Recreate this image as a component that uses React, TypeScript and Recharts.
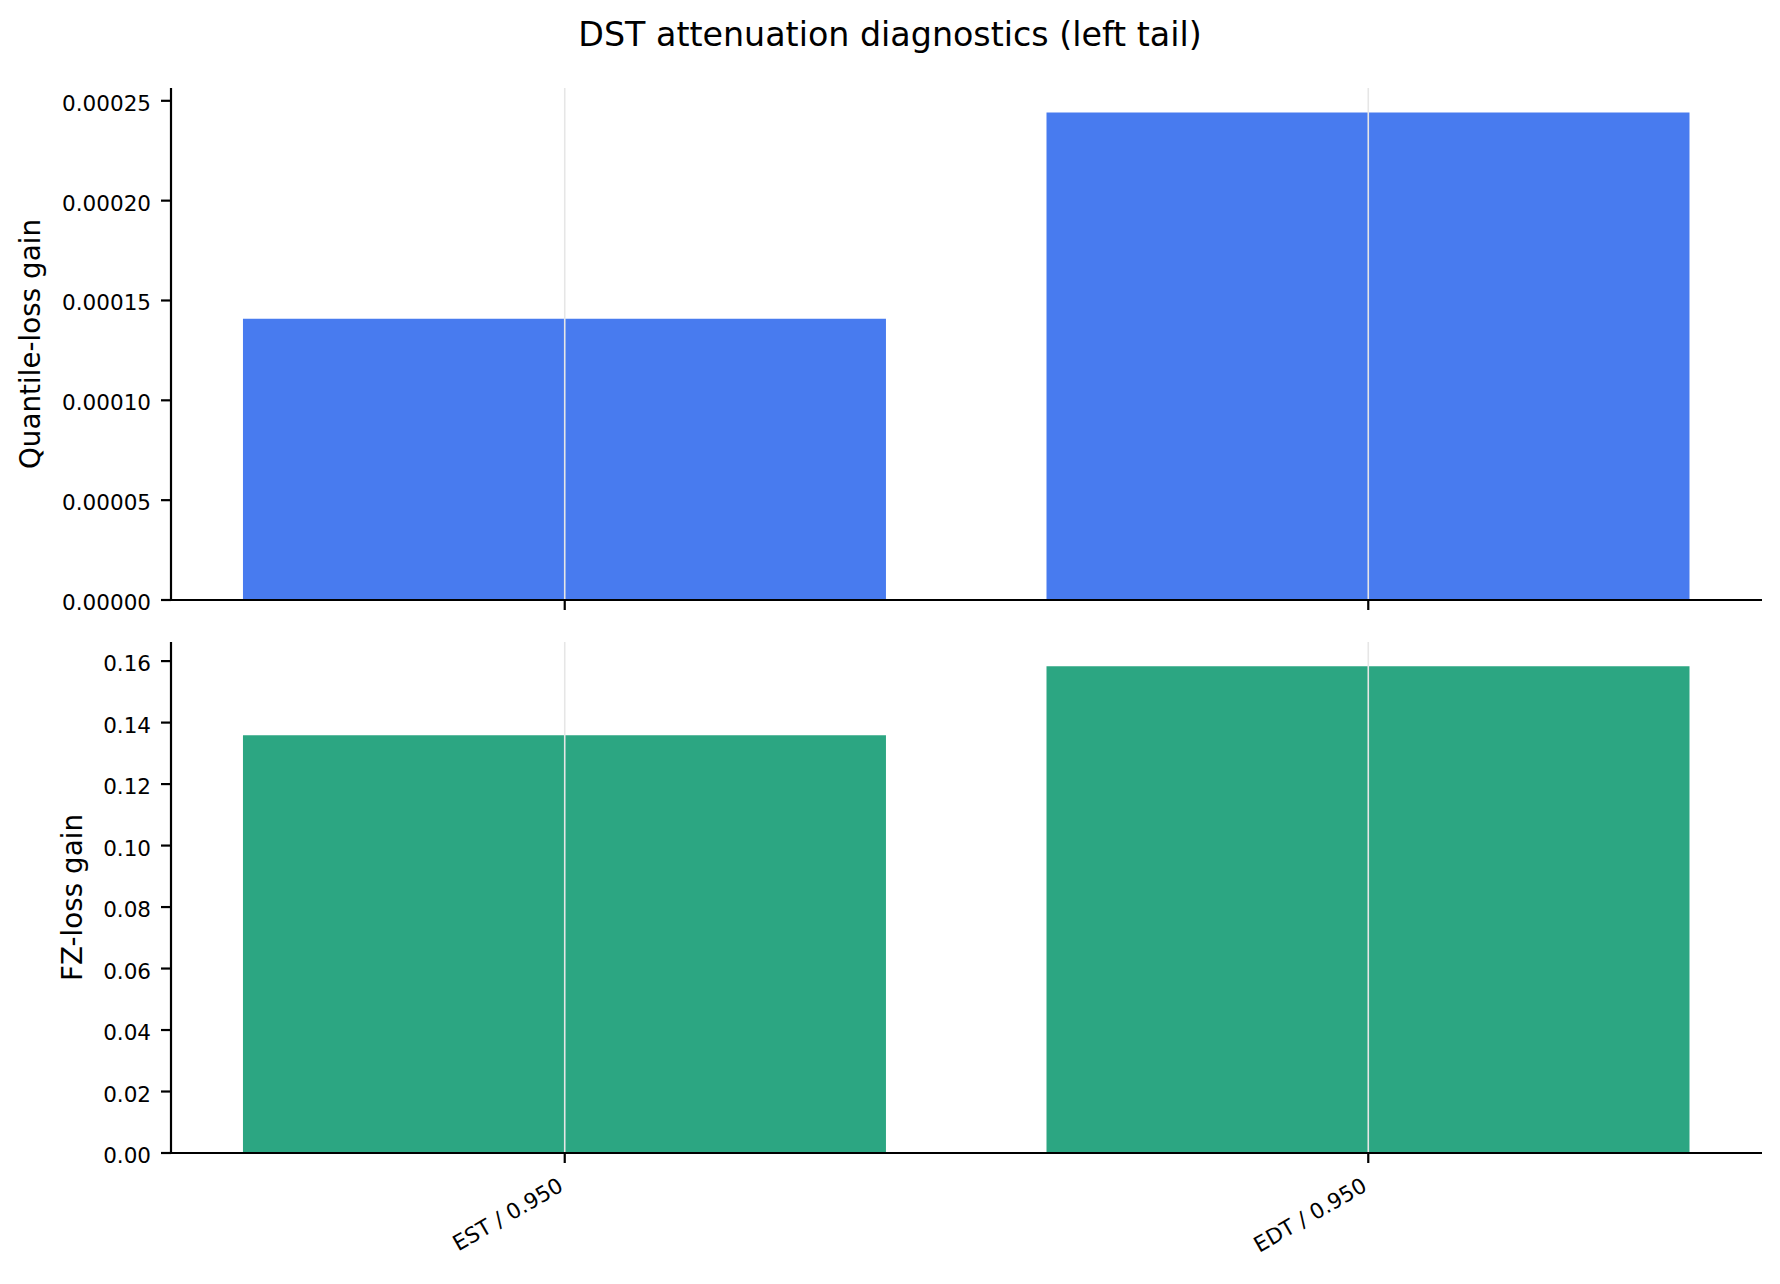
import { BarChart, Bar, XAxis, YAxis, ReferenceLine, Label } from "recharts";

const title = "DST attenuation diagnostics (left tail)";
const categories = ["EST / 0.950", "EDT / 0.950"];
const quantileGain = [0.0001408, 0.0002442];
const fzGain = [0.1359, 0.1583];
const quantileTicks = [0, 0.00005, 0.0001, 0.00015, 0.0002, 0.00025];
const fzTicks = [0, 0.02, 0.04, 0.06, 0.08, 0.1, 0.12, 0.14, 0.16];

const FONT = "DejaVu Sans";
const BLUE = "#487bef";
const GREEN = "#2ca682";
const GRID = "#e6e6e6";

const data = categories.map((label, idx) => ({
  idx,
  label,
  quantile: quantileGain[idx],
  fz: fzGain[idx],
}));
const idxTicks = categories.map((_, i) => i);
// matplotlib-style x limits: bars of width 0.8 plus 5% margins
const xDomain = [-0.49, categories.length - 1 + 0.49];
const quantileMax = Math.max(...quantileGain) * 1.05;
const fzMax = Math.max(...fzGain) * 1.05;

function YTick({ x, y, payload, digits }: any) {
  return (
    <text x={x} y={y} dy={10} textAnchor="end" fontSize={21.5} fontFamily={FONT} fill="#000">
      {Number(payload.value).toFixed(digits)}
    </text>
  );
}

function XTick({ x, y, payload }: any) {
  const ax = x;
  const ay = y + 27;
  return (
    <text
      x={ax}
      y={ay}
      textAnchor="end"
      fontSize={21.5}
      fontFamily={FONT}
      fill="#000"
      transform={`rotate(-30 ${ax} ${ay})`}
    >
      {categories[payload.value]}
    </text>
  );
}

function YLabel({ text, baseX }: { text: string; baseX: number }) {
  return (props: any) => {
    const vb = props.viewBox || {};
    const cy = vb.y + vb.height / 2;
    return (
      <text
        x={baseX}
        y={cy}
        textAnchor="middle"
        fontSize={27.8}
        fontFamily={FONT}
        fill="#000"
        transform={`rotate(-90 ${baseX} ${cy})`}
      >
        {text}
      </text>
    );
  };
}

const axisStyle = { stroke: "#000", strokeWidth: 2.2 };

export default function App() {
  return (
    <div style={{ position: "absolute", left: 0, top: 0, width: 1780, height: 1284, background: "#fff" }}>
      <svg width={1780} height={80} style={{ position: "absolute", left: 0, top: 0 }}>
        <text x={890} y={46} textAnchor="middle" fontSize={33.3} fontFamily={FONT} fill="#000">
          {title}
        </text>
      </svg>

      <div style={{ position: "absolute", left: 0, top: 0 }}>
        <BarChart width={1780} height={640} data={data} margin={{ top: 88, right: 18, bottom: 0, left: 0 }}>
          <XAxis
            type="number"
            dataKey="idx"
            domain={xDomain}
            ticks={idxTicks}
            allowDataOverflow
            height={40}
            axisLine={axisStyle}
            tickLine={axisStyle}
            tickSize={10}
            tick={() => <g />}
          />
          <YAxis
            width={171}
            domain={[0, quantileMax]}
            ticks={quantileTicks}
            allowDataOverflow
            axisLine={axisStyle}
            tickLine={axisStyle}
            tickSize={10}
            tickMargin={10}
            tick={<YTick digits={5} />}
          >
            <Label content={YLabel({ text: "Quantile-loss gain", baseX: 39.5 })} />
          </YAxis>
          <Bar dataKey="quantile" fill={BLUE} barSize={643} isAnimationActive={false} />
          {idxTicks.map((i) => (
            <ReferenceLine key={i} x={i} stroke={GRID} strokeWidth={1.6} />
          ))}
        </BarChart>
      </div>

      <div style={{ position: "absolute", left: 0, top: 640 }}>
        <BarChart width={1780} height={644} data={data} margin={{ top: 2, right: 18, bottom: 0, left: 0 }}>
          <XAxis
            type="number"
            dataKey="idx"
            domain={xDomain}
            ticks={idxTicks}
            allowDataOverflow
            height={131}
            axisLine={axisStyle}
            tickLine={axisStyle}
            tickSize={10}
            tickMargin={0}
            tick={<XTick />}
          />
          <YAxis
            width={171}
            domain={[0, fzMax]}
            ticks={fzTicks}
            allowDataOverflow
            axisLine={axisStyle}
            tickLine={axisStyle}
            tickSize={10}
            tickMargin={10}
            tick={<YTick digits={2} />}
          >
            <Label content={YLabel({ text: "FZ-loss gain", baseX: 82.3 })} />
          </YAxis>
          <Bar dataKey="fz" fill={GREEN} barSize={643} isAnimationActive={false} />
          {idxTicks.map((i) => (
            <ReferenceLine key={i} x={i} stroke={GRID} strokeWidth={1.6} />
          ))}
        </BarChart>
      </div>
    </div>
  );
}
